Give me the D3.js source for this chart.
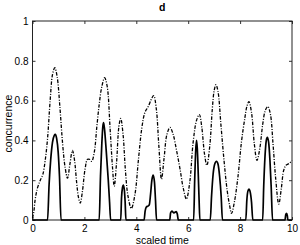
<!DOCTYPE html>
<html lang="en">
  <head>
    <meta charset="utf-8">
    <title>concurrence d</title>
    <script src="https://d3js.org/d3.v7.min.js" charset="utf-8"></script>
    <style>
      body { margin: 0; background: #fff; }
      text { font-family: "Liberation Sans", Arial, sans-serif; fill: #000; }
    </style>
  </head>
  <body>
  <div id="dataviz"></div>
  <script type="text/javascript">
    // dash-dot curve
    var dashX = [0.00, 0.05, 0.10, 0.19, 0.30, 0.40, 0.49, 0.58, 0.68, 0.77, 0.86, 0.95, 1.06, 1.15, 1.25, 1.35,
                 1.44, 1.54, 1.62, 1.70, 1.77, 1.84, 1.92, 2.03, 2.12, 2.20, 2.28, 2.38, 2.48, 2.57, 2.67, 2.78,
                 2.88, 2.99, 3.08, 3.15, 3.24, 3.33, 3.40, 3.49, 3.58, 3.68, 3.81, 3.95, 4.08, 4.21, 4.33, 4.46,
                 4.59, 4.67, 4.77, 4.87, 4.97, 5.07, 5.18, 5.30, 5.42, 5.55, 5.68, 5.81, 5.93, 6.06, 6.19, 6.32,
                 6.43, 6.52, 6.63, 6.72, 6.83, 6.93, 7.00, 7.07, 7.15, 7.26, 7.38, 7.50, 7.60, 7.67, 7.78, 7.92,
                 8.05, 8.18, 8.26, 8.34, 8.44, 8.55, 8.65, 8.76, 8.87, 8.97, 9.07, 9.17, 9.27, 9.37, 9.49, 9.59,
                 9.68, 9.77, 9.90, 10.0];
    var dashY = [0.01, 0.04, 0.10, 0.16, 0.20, 0.23, 0.30, 0.41, 0.60, 0.73, 0.765, 0.72, 0.56, 0.40, 0.27, 0.21,
                 0.28, 0.35, 0.30, 0.19, 0.115, 0.085, 0.14, 0.26, 0.305, 0.305, 0.295, 0.34, 0.47, 0.58, 0.67, 0.715,
                 0.67, 0.46, 0.27, 0.17, 0.29, 0.47, 0.51, 0.43, 0.25, 0.12, 0.058, 0.13, 0.30, 0.46, 0.54, 0.57,
                 0.61, 0.625, 0.56, 0.37, 0.205, 0.31, 0.43, 0.465, 0.43, 0.35, 0.26, 0.16, 0.105, 0.19, 0.39, 0.50,
                 0.53, 0.47, 0.33, 0.275, 0.37, 0.56, 0.65, 0.68, 0.645, 0.48, 0.30, 0.15, 0.07, 0.033, 0.09, 0.22,
                 0.39, 0.51, 0.57, 0.595, 0.54, 0.38, 0.30, 0.36, 0.48, 0.55, 0.57, 0.53, 0.38, 0.21, 0.08, 0.16,
                 0.25, 0.275, 0.285, 0.30];

    // solid curve (zero between the bumps)
    var solidX = [0, 0.58, 0.64, 0.70, 0.77, 0.84, 0.88, 0.93, 0.99, 1.04, 1.10,
                  2.57, 2.62, 2.67, 2.71, 2.74, 2.78, 2.84, 2.92, 2.97, 3.01,
                  3.40, 3.43, 3.47, 3.50, 3.54, 3.57, 3.60,
                  4.30, 4.34, 4.39, 4.45, 4.50, 4.55, 4.60, 4.65, 4.70, 4.74, 4.78,
                  5.29, 5.32, 5.37, 5.45, 5.54, 5.58, 5.62,
                  6.21, 6.25, 6.29, 6.32, 6.35, 6.39, 6.42, 6.45,
                  6.85, 6.90, 6.96, 7.02, 7.09, 7.15, 7.21, 7.27, 7.32,
                  8.22, 8.26, 8.30, 8.34, 8.39, 8.44, 8.49,
                  8.87, 8.91, 8.96, 9.01, 9.05, 9.10, 9.15, 9.20, 9.25,
                  9.73, 9.76, 9.79, 9.82, 9.84, 10];
    var solidY = [0, 0, 0.18, 0.30, 0.39, 0.425, 0.43, 0.41, 0.34, 0.22, 0,
                  0, 0.22, 0.38, 0.47, 0.49, 0.45, 0.35, 0.20, 0.09, 0,
                  0, 0.11, 0.165, 0.176, 0.15, 0.09, 0,
                  0, 0.045, 0.066, 0.07, 0.076, 0.13, 0.20, 0.226, 0.19, 0.10, 0,
                  0, 0.035, 0.045, 0.036, 0.042, 0.03, 0,
                  0, 0.20, 0.35, 0.40, 0.36, 0.22, 0.10, 0,
                  0, 0.12, 0.23, 0.28, 0.295, 0.28, 0.22, 0.12, 0,
                  0, 0.10, 0.145, 0.155, 0.14, 0.09, 0,
                  0, 0.17, 0.32, 0.40, 0.415, 0.39, 0.30, 0.16, 0,
                  0, 0.028, 0.034, 0.022, 0, 0];

    var xTicks = [0, 2, 4, 6, 8, 10];
    var yTicks = [0, 0.2, 0.4, 0.6, 0.8, 1];

    var margin = {top: 21, right: 8, bottom: 25, left: 32.5},
        width = 300 - margin.left - margin.right,
        height = 245 - margin.top - margin.bottom;

    var svg = d3.select("#dataviz")
      .append("svg")
        .attr("width", 300)
        .attr("height", 245)
      .append("g")
        .attr("transform", "translate(" + margin.left + "," + margin.top + ")");

    var x = d3.scaleLinear().domain([0, 10]).range([0, width]);
    var y = d3.scaleLinear().domain([0, 1]).range([height, 0]);

    var fmt = function(d) { return d3.format("")(d); };

    var xAxis = svg.append("g")
      .attr("transform", "translate(0," + height + ")")
      .call(d3.axisBottom(x).tickValues(xTicks).tickFormat(fmt).tickSizeInner(-3).tickSizeOuter(0).tickPadding(4.5));
    var xTop = svg.append("g")
      .call(d3.axisTop(x).tickValues(xTicks).tickFormat("").tickSizeInner(-3).tickSizeOuter(0));
    var yAxis = svg.append("g")
      .call(d3.axisLeft(y).tickValues(yTicks).tickFormat(fmt).tickSizeInner(-3).tickSizeOuter(0).tickPadding(4));
    var yRight = svg.append("g")
      .attr("transform", "translate(" + width + ",0)")
      .call(d3.axisRight(y).tickValues(yTicks).tickFormat("").tickSizeInner(-3).tickSizeOuter(0));

    svg.selectAll(".domain").remove();
    svg.selectAll(".tick line").attr("stroke", "#333");
    svg.selectAll(".tick text")
      .attr("font-size", 10)
      .style("font-family", "'Liberation Sans', Arial, sans-serif");

    svg.append("rect")
      .attr("x", 0).attr("y", 0)
      .attr("width", width).attr("height", height)
      .attr("fill", "none")
      .attr("stroke", "#222")
      .attr("stroke-width", 1);

    var dashData = dashX.map(function(d, i) { return [d, dashY[i]]; });
    var solidData = solidX.map(function(d, i) { return [d, solidY[i]]; });

    var dashLine = d3.line()
      .x(function(d) { return x(d[0]); })
      .y(function(d) { return y(d[1]); })
      .curve(d3.curveCatmullRom.alpha(0.5));

    var solidLine = d3.line()
      .x(function(d) { return x(d[0]); })
      .y(function(d) { return y(d[1]); })
      .curve(d3.curveMonotoneX);

    svg.append("path")
      .datum(solidData)
      .attr("d", solidLine)
      .attr("fill", "none")
      .attr("stroke", "#000")
      .attr("stroke-width", 1.7);

    svg.append("path")
      .datum(dashData)
      .attr("d", dashLine)
      .attr("fill", "none")
      .attr("stroke", "#000")
      .attr("stroke-width", 1.3)
      .attr("stroke-dasharray", "3.5,1.5,1,1.5");

    // title and labels
    svg.append("text")
      .attr("x", width / 2)
      .attr("y", -10)
      .attr("text-anchor", "middle")
      .attr("font-size", 10.5)
      .attr("font-weight", "bold")
      .text("d");

    svg.append("text")
      .attr("x", width / 2)
      .attr("y", height + 23.5)
      .attr("text-anchor", "middle")
      .attr("font-size", 10.5)
      .text("scaled time");

    svg.append("text")
      .attr("transform", "translate(" + (-21) + "," + (height / 2 + 3) + ") rotate(-90)")
      .attr("text-anchor", "middle")
      .attr("font-size", 10.5)
      .text("concurrence");
  </script>
  </body>
</html>
